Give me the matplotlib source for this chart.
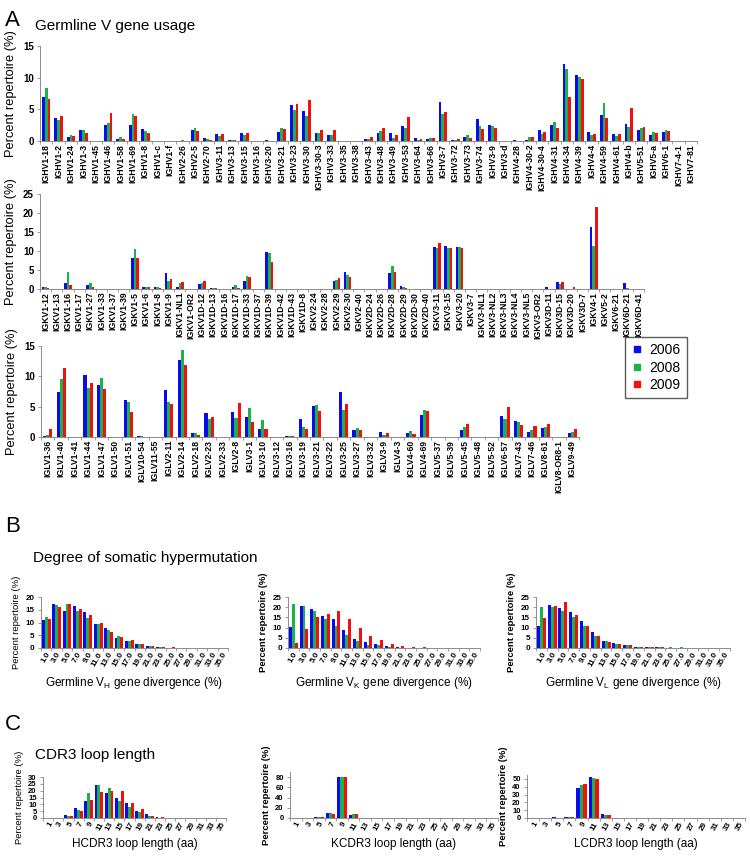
import numpy as np
import matplotlib
matplotlib.use('Agg')
import matplotlib.pyplot as plt
from matplotlib.lines import Line2D

plt.rcParams['font.family'] = ['Liberation Sans', 'DejaVu Sans']

colors = ['#0a0af0', '#1db14b', '#f01010']
years = ['2006', '2008', '2009']

# ---- panel A: germline V gene usage ----
cats_h = ['IGHV1-18', 'IGHV1-2', 'IGHV1-24', 'IGHV1-3', 'IGHV1-45', 'IGHV1-46', 'IGHV1-58', 'IGHV1-69',
          'IGHV1-8', 'IGHV1-c', 'IGHV1-f', 'IGHV2-26', 'IGHV2-5', 'IGHV2-70', 'IGHV3-11', 'IGHV3-13',
          'IGHV3-15', 'IGHV3-16', 'IGHV3-20', 'IGHV3-21', 'IGHV3-23', 'IGHV3-30', 'IGHV3-30-3', 'IGHV3-33',
          'IGHV3-35', 'IGHV3-38', 'IGHV3-43', 'IGHV3-48', 'IGHV3-49', 'IGHV3-53', 'IGHV3-64', 'IGHV3-66',
          'IGHV3-7', 'IGHV3-72', 'IGHV3-73', 'IGHV3-74', 'IGHV3-9', 'IGHV3-d', 'IGHV4-28', 'IGHV4-30-2',
          'IGHV4-30-4', 'IGHV4-31', 'IGHV4-34', 'IGHV4-39', 'IGHV4-4', 'IGHV4-59', 'IGHV4-61', 'IGHV4-b',
          'IGHV5-51', 'IGHV5-a', 'IGHV6-1', 'IGHV7-4-1', 'IGHV7-81']
h_2006 = [6.9, 3.6, 0.7, 1.8, 0, 2.5, 0.3, 2.6, 1.9, 0, 0, 0, 1.7, 0.5, 1.1, 0.2, 1.2, 0, 0.1, 1.4, 5.7, 4.8,
          1.2, 0.9, 0, 0, 0.26, 1.3, 1.2, 2.4, 0.4, 0.26, 6.2, 0.1, 0.6, 3.5, 2.6, 0, 0.1, 0.1, 1.7, 2.6,
          12.1, 10.4, 1.45, 4.05, 1.15, 2.7, 1.8, 1.0, 1.35, 0, 0]
h_2008 = [8.3, 3.3, 0.9, 1.8, 0, 2.9, 0.7, 4.3, 1.6, 0, 0, 0.2, 2.1, 0.3, 0.8, 0.1, 1.0, 0, 0, 2.1, 4.9, 4.0,
          1.2, 0.9, 0, 0, 0.36, 1.6, 0.4, 2.1, 0.15, 0.4, 4.3, 0.1, 0.9, 2.4, 2.4, 0, 0, 0.6, 1.1, 3.0,
          11.35, 10.05, 0.95, 6.05, 0.8, 2.25, 2.1, 1.45, 1.8, 0, 0]
h_2009 = [6.6, 3.9, 0.8, 1.25, 0, 4.4, 0.3, 4.0, 1.3, 0, 0, 0, 1.6, 0.2, 1.1, 0.2, 1.2, 0, 0, 1.9, 5.8, 6.4,
          1.8, 1.8, 0, 0, 0.6, 2.0, 0.9, 3.75, 0.3, 0.4, 4.6, 0.26, 0.4, 1.9, 2.1, 0, 0, 0.7, 1.35, 2.0,
          6.9, 9.85, 1.15, 3.7, 1.05, 5.2, 2.15, 1.3, 1.55, 0, 0]

cats_k = ['IGKV1-12', 'IGKV1-13', 'IGKV1-16', 'IGKV1-17', 'IGKV1-27', 'IGKV1-33', 'IGKV1-37', 'IGKV1-39',
          'IGKV1-5', 'IGKV1-6', 'IGKV1-8', 'IGKV1-9', 'IGKV1-NL1', 'IGKV1-OR2', 'IGKV1D-12', 'IGKV1D-13',
          'IGKV1D-16', 'IGKV1D-17', 'IGKV1D-33', 'IGKV1D-37', 'IGKV1D-39', 'IGKV1D-42', 'IGKV1D-43',
          'IGKV1D-8', 'IGKV2-24', 'IGKV2-28', 'IGKV2-29', 'IGKV2-30', 'IGKV2-40', 'IGKV2D-24', 'IGKV2D-26',
          'IGKV2D-28', 'IGKV2D-29', 'IGKV2D-30', 'IGKV2D-40', 'IGKV3-11', 'IGKV3-15', 'IGKV3-20', 'IGKV3-7',
          'IGKV3-NL1', 'IGKV3-NL2', 'IGKV3-NL3', 'IGKV3-NL4', 'IGKV3-NL5', 'IGKV3-OR2', 'IGKV3D-11',
          'IGKV3D-15', 'IGKV3D-20', 'IGKV3D-7', 'IGKV4-1', 'IGKV5-2', 'IGKV6-21', 'IGKV6D-21', 'IGKV6D-41']
k_2006 = [0.4, 0.1, 1.7, 0, 1.1, 0, 0, 0, 8.1, 0.5, 0.5, 4.2, 0.6, 0, 1.4, 0.3, 0, 0.4, 2.1, 0, 9.8, 0, 0,
          0.1, 0, 0, 2.2, 4.6, 0, 0, 0, 4.3, 0.8, 0, 0.1, 11.1, 11.3, 11.0, 0, 0, 0, 0, 0, 0, 0, 0.4, 1.8,
          0.1, 0, 16.2, 0, 0, 1.5, 0]
k_2008 = [0.4, 0, 4.5, 0, 1.5, 0, 0, 0, 10.4, 0.4, 0.5, 2.0, 1.6, 0, 1.6, 0.3, 0, 1.1, 3.5, 0, 9.6, 0, 0,
          0, 0, 0, 2.5, 3.6, 0, 0, 0, 6.1, 0.6, 0, 0, 10.9, 10.7, 11.1, 0, 0, 0, 0, 0, 0, 0, 0, 1.3,
          0, 0, 11.3, 0, 0, 0.3, 0]
k_2009 = [0.3, 0, 1.0, 0, 0.5, 0, 0, 0, 8.1, 0.4, 0.3, 2.6, 1.9, 0, 2.0, 0.2, 0, 0.2, 3.2, 0, 7.1, 0, 0,
          0, 0, 0, 2.9, 3.2, 0, 0, 0, 4.5, 0.3, 0, 0, 12.2, 10.7, 10.9, 0, 0, 0, 0, 0, 0.1, 0, 0, 1.8,
          0.5, 0, 21.5, 0, 0, 0, 0]

cats_l = ['IGLV1-36', 'IGLV1-40', 'IGLV1-41', 'IGLV1-44', 'IGLV1-47', 'IGLV1-50', 'IGLV1-51', 'IGLV10-54',
          'IGLV11-55', 'IGLV2-11', 'IGLV2-14', 'IGLV2-18', 'IGLV2-23', 'IGLV2-33', 'IGLV2-8', 'IGLV3-1',
          'IGLV3-10', 'IGLV3-12', 'IGLV3-16', 'IGLV3-19', 'IGLV3-21', 'IGLV3-22', 'IGLV3-25', 'IGLV3-27',
          'IGLV3-32', 'IGLV3-9', 'IGLV4-3', 'IGLV4-60', 'IGLV4-69', 'IGLV5-37', 'IGLV5-39', 'IGLV5-45',
          'IGLV5-48', 'IGLV5-52', 'IGLV6-57', 'IGLV7-43', 'IGLV7-46', 'IGLV8-61', 'IGLV8-OR8-1', 'IGLV9-49']
l_2006 = [0.2, 7.5, 0, 10.2, 8.6, 0, 6.1, 0.1, 0, 7.7, 12.7, 0.6, 3.9, 0, 4.1, 3.3, 1.3, 0, 0.1, 2.9, 5.1,
          0, 7.5, 1.1, 0, 0.8, 0, 0.6, 3.6, 0.05, 0, 1.2, 0, 0.05, 3.5, 2.6, 0.8, 1.5, 0, 0.6]
l_2008 = [0.4, 9.6, 0, 8.1, 9.8, 0, 5.7, 0.1, 0, 5.8, 14.3, 0.6, 3.0, 0, 3.1, 4.7, 2.8, 0, 0.15, 1.7, 5.2,
          0, 4.5, 1.5, 0, 0.4, 0, 1.0, 4.4, 0.05, 0, 1.6, 0, 0.05, 3.0, 2.4, 1.2, 1.65, 0, 0.8]
l_2009 = [1.4, 11.3, 0, 8.9, 7.9, 0, 4.1, 0, 0, 5.5, 11.9, 0.4, 3.3, 0, 5.6, 2.4, 1.3, 0, 0.1, 1.4, 4.3,
          0, 5.4, 1.2, 0, 0.65, 0, 0.5, 4.35, 0, 0, 2.2, 0, 0, 5.0, 2.0, 1.75, 2.2, 0, 1.3]

# ---- panel B: somatic hypermutation ----
div_labels = ['1.0', '3.0', '5.0', '7.0', '9.0', '11.0', '13.0', '15.0', '17.0', '19.0', '21.0', '23.0',
              '25.0', '27.0', '29.0', '31.0', '33.0', '35.0']
vh_2006 = [10.8, 17.45, 14.5, 16.3, 14.1, 9.5, 7.7, 3.95, 2.6, 1.6, 0.6, 0.2, 0.1, 0.05, 0, 0, 0, 0]
vh_2008 = [12.0, 16.8, 17.1, 14.6, 11.9, 9.6, 6.9, 4.6, 2.8, 1.6, 0.7, 0.4, 0.1, 0.05, 0, 0, 0, 0]
vh_2009 = [11.4, 16.2, 17.2, 15.2, 12.9, 9.65, 6.3, 4.4, 3.2, 1.6, 0.7, 0.3, 0.2, 0.05, 0, 0, 0, 0]
vk_2006 = [10.4, 20.4, 19.1, 15.6, 14.0, 8.8, 4.3, 2.7, 2.0, 0.85, 0.5, 0.2, 0.1, 0.05, 0, 0, 0, 0]
vk_2008 = [21.5, 20.4, 18.3, 14.0, 10.9, 6.2, 3.5, 1.7, 1.3, 0.5, 0.1, 0.1, 0.05, 0.05, 0, 0, 0, 0]
vk_2009 = [2.3, 9.1, 15.2, 16.7, 18.1, 14.0, 10.0, 6.0, 4.0, 2.2, 1.0, 0.4, 0.3, 0.05, 0, 0, 0, 0]
vl_2006 = [10.95, 21.1, 19.6, 17.6, 13.4, 7.9, 3.5, 2.6, 1.3, 0.6, 0.5, 0.3, 0.15, 0.1, 0, 0, 0, 0]
vl_2008 = [20.2, 20.0, 17.9, 15.4, 10.7, 5.8, 3.2, 2.2, 1.6, 0.7, 0.4, 0.35, 0.25, 0.3, 0, 0, 0, 0]
vl_2009 = [14.6, 20.5, 22.4, 16.1, 11.0, 5.8, 3.1, 2.1, 1.5, 0.7, 0.4, 0.3, 0.15, 0.1, 0, 0, 0, 0]

# ---- panel C: CDR3 length ----
cdr_labels = ['1', '3', '5', '7', '9', '11', '13', '15', '17', '19', '21', '23', '25', '27', '29', '31',
              '33', '35']
h3_2006 = [0, 0.3, 2.5, 7.3, 12.4, 24.5, 18.3, 14.3, 11.1, 5.2, 2.6, 0.5, 0.1, 0, 0, 0, 0, 0]
h3_2008 = [0, 0.3, 1.5, 5.6, 18.0, 24.0, 22.1, 12.8, 8.3, 4.3, 1.7, 0.3, 0.1, 0, 0, 0, 0, 0]
h3_2009 = [0, 0.2, 1.5, 5.2, 13.3, 18.9, 19.8, 19.9, 11.0, 6.6, 1.7, 0.6, 0.2, 0, 0, 0, 0, 0]
k3_2006 = [0, 0, 1.5, 10.1, 81.0, 6.3, 0.1, 0, 0, 0, 0, 0, 0, 0, 0, 0, 0, 0]
k3_2008 = [0, 0, 1.3, 9.0, 81.0, 7.2, 0.1, 0, 0, 0, 0, 0, 0, 0, 0, 0, 0, 0]
k3_2009 = [0, 0, 1.0, 8.8, 80.5, 8.5, 0.1, 0, 0, 0, 0, 0, 0, 0, 0, 0, 0, 0]
l3_2006 = [0, 0, 1.1, 1.9, 39.0, 52.2, 5.0, 0.3, 0, 0, 0, 0, 0, 0, 0, 0, 0, 0]
l3_2008 = [0, 0, 0.5, 1.7, 42.0, 51.0, 3.6, 0.3, 0, 0, 0, 0, 0, 0, 0, 0, 0, 0]
l3_2009 = [0, 0, 0.3, 1.8, 43.0, 50.4, 3.6, 0.3, 0, 0, 0, 0, 0, 0, 0, 0, 0, 0]

W, H = 750, 858
fig = plt.figure(figsize=(W / 100, H / 100), dpi=100)
GRAY = '#8c8c8c'


def add_ax(l, t, r, b):
    return fig.add_axes([l / W, 1 - b / H, (r - l) / W, (b - t) / H])


def bar_panel(ax, cats, series, width, ylim, yticks):
    x = np.arange(len(cats))
    for k, vals in enumerate(series):
        ax.bar(x + (k - 1) * width, vals, width, color=colors[k], linewidth=0)
    ax.set_xlim(-0.5, len(cats) - 0.5)
    ax.set_ylim(*ylim)
    ax.set_yticks(yticks)
    for s in ['top', 'right']:
        ax.spines[s].set_visible(False)
    for s in ['left', 'bottom']:
        ax.spines[s].set_color(GRAY)
        ax.spines[s].set_linewidth(0.7)
    ax.set_xticks(x)
    ax.set_xticks(np.arange(len(cats) + 1) - 0.5, minor=True)
    ax.tick_params(axis='x', which='major', length=0, pad=2)
    ax.tick_params(axis='x', which='minor', length=2, color=GRAY, width=0.6)
    ax.tick_params(axis='y', length=2.5, color=GRAY, width=0.6, pad=2)
    return x


# panel A rows
rowsA = [
    ((40, 46, 697, 141), cats_h, [h_2006, h_2008, h_2009], (0, 15), [0, 5, 10, 15]),
    ((40, 194, 644, 289), cats_k, [k_2006, k_2008, k_2009], (0, 25), [0, 5, 10, 15, 20, 25]),
    ((41, 346, 579, 437), cats_l, [l_2006, l_2008, l_2009], (0, 15), [0, 5, 10, 15]),
]
for box, cats, series, ylim, yt in rowsA:
    ax = add_ax(*box)
    bar_panel(ax, cats, series, 0.23, ylim, yt)
    ax.set_xticklabels(cats, rotation=90, fontsize=6.2, fontweight='bold')
    ax.set_yticklabels([str(v) for v in yt], fontsize=7, fontweight='bold')
    ax.set_ylabel('Percent repertoire (%)', fontsize=9.3, labelpad=4)

# legend
handles = [Line2D([], [], marker='s', ls='', color=c, markersize=5) for c in colors]
fig.legend(handles, years, loc='upper left', bbox_to_anchor=(625 / W, 1 - 337 / H), frameon=True,
           fancybox=False, edgecolor='#333333', fontsize=10, handlelength=0.8, handletextpad=0.5,
           borderpad=0.45, labelspacing=0.25, borderaxespad=0)

# panel B
rowsB = [
    ((41, 597, 228, 648), [vh_2006, vh_2008, vh_2009], (0, 20), [0, 5, 10, 15, 20],
     'Germline V$_\\mathregular{H}$ gene divergence (%)', 'normal'),
    ((288, 597, 480, 648), [vk_2006, vk_2008, vk_2009], (0, 25), [0, 5, 10, 15, 20, 25],
     'Germline V$_\\mathregular{K}$ gene divergence (%)', 'bold'),
    ((536, 597, 730, 648), [vl_2006, vl_2008, vl_2009], (0, 25), [0, 5, 10, 15, 20, 25],
     'Germline V$_\\mathregular{L}$ gene divergence (%)', 'bold'),
]
for box, series, ylim, yt, xlab, yw in rowsB:
    ax = add_ax(*box)
    bar_panel(ax, div_labels, series, 0.28, ylim, yt)
    ax.set_xticklabels(div_labels, rotation=60, fontsize=5.8, fontweight='bold', ha='right',
                       rotation_mode='anchor')
    ax.set_yticklabels([str(v) for v in yt], fontsize=5.8, fontweight='bold')
    ax.set_ylabel('Percent repertoire (%)', fontsize=6.8, fontweight=yw, labelpad=3)
    ax.set_xlabel(xlab, fontsize=8.5, labelpad=5)

# panel C
rowsC = [
    ((43, 777, 226, 818), [h3_2006, h3_2008, h3_2009], (0, 30), [0, 5, 10, 15, 20, 25, 30],
     'HCDR3 loop length (aa)', 'normal'),
    ((290, 772, 498, 818), [k3_2006, k3_2008, k3_2009], (0, 90), [0, 20, 40, 60, 80],
     'KCDR3 loop length (aa)', 'bold'),
    ((527, 775, 745, 818), [l3_2006, l3_2008, l3_2009], (0, 55), [0, 10, 20, 30, 40, 50],
     'LCDR3 loop length (aa)', 'bold'),
]
for box, series, ylim, yt, xlab, yw in rowsC:
    ax = add_ax(*box)
    bar_panel(ax, cdr_labels, series, 0.28, ylim, yt)
    ax.set_xticklabels(cdr_labels, rotation=60, fontsize=5.8, fontweight='bold', ha='right',
                       rotation_mode='anchor')
    ax.set_yticklabels([str(v) for v in yt], fontsize=5.5, fontweight='bold')
    ax.set_ylabel('Percent repertoire (%)', fontsize=6.8, fontweight=yw, labelpad=3)
    ax.set_xlabel(xlab, fontsize=8.5, labelpad=4)

# panel letters and titles
fig.text(5 / W, 1 - 20 / H, 'A', fontsize=16, va='center')
fig.text(35 / W, 1 - 26 / H, 'Germline V gene usage', fontsize=11, va='center')
fig.text(5 / W, 1 - 527 / H, 'B', fontsize=16, va='center')
fig.text(33 / W, 1 - 558 / H, 'Degree of somatic hypermutation', fontsize=11, va='center')
fig.text(5 / W, 1 - 724 / H, 'C', fontsize=16, va='center')
fig.text(35 / W, 1 - 755 / H, 'CDR3 loop length', fontsize=11, va='center')

fig.savefig('out.png', dpi=100)
